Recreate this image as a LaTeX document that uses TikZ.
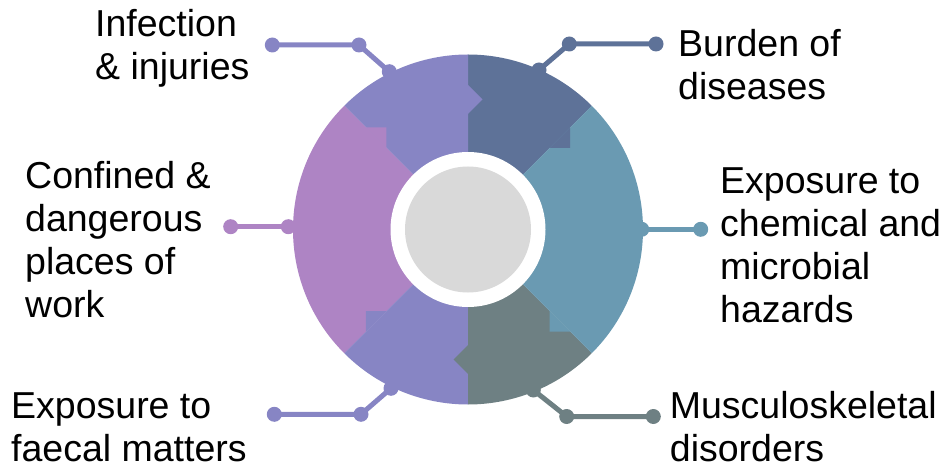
\documentclass[tikz,border=0pt]{standalone}
\usepackage{fontspec}
\setmainfont{Liberation Sans}
\usetikzlibrary{calc}
\definecolor{lavender}{HTML}{8785C4}
\definecolor{orchid}{HTML}{AE84C4}
\definecolor{slate}{HTML}{5E7298}
\definecolor{steel}{HTML}{6A9AB2}
\definecolor{sage}{HTML}{6E8083}
\definecolor{hub}{HTML}{D9D9D9}
\begin{document}
\begin{tikzpicture}[x=1pt, y=1pt,
    dot/.style={circle, fill=#1, minimum size=15pt, inner sep=0pt},
    link/.style={#1, line width=5pt},
    label/.style={anchor=north west, inner sep=0pt, align=left,
                  font=\fontsize{37.5}{43}\selectfont}]
      \useasboundingbox (-468, -238.5) rectangle (476, 229.5);
      % ring
      \foreach \a/\b/\c in {45/90/slate, 90/135/lavender, 135/225/orchid,
                            225/270/lavender, 270/315/sage, -45/45/steel}
        \fill [\c] (0, 0) -- (\a:175) arc [start angle=\a, end angle=\b, radius=175] -- cycle;
      \foreach \a/\c in {90/lavender, 135/orchid, 45/slate, -45/steel, 270/sage, 225/lavender}
        \fill [\c] (\a:115.5) -- ($(\a:130)+(\a-90:14.5)$) -- (\a:144.5) -- cycle;
      \fill [white] (0, 0) circle (77.5);
      \fill [hub] (0, 0) circle (63);
      % dots
      \node [dot=lavender] (inf1) at (-78.7, 157.8) {};
      \node [dot=lavender] (inf2) at (-109, 184.5) {};
      \node [dot=lavender] (inf3) at (-195.7, 184.5) {};
      \node [dot=slate] (bur1) at (71, 159.5) {};
      \node [dot=slate] (bur2) at (101.3, 185.5) {};
      \node [dot=slate] (bur3) at (188, 185.5) {};
      \node [dot=orchid] (conf1) at (-179.7, 2.8) {};
      \node [dot=orchid] (conf2) at (-237.3, 2.8) {};
      \node [dot=steel] (chem1) at (173.7, 0.2) {};
      \node [dot=steel] (chem2) at (232.7, 0.2) {};
      \node [dot=lavender] (faec1) at (-77, -158.8) {};
      \node [dot=lavender] (faec2) at (-107, -184.8) {};
      \node [dot=lavender] (faec3) at (-193.7, -184.8) {};
      \node [dot=sage] (musc1) at (65.3, -160.5) {};
      \node [dot=sage] (musc2) at (98.7, -187) {};
      \node [dot=sage] (musc3) at (185.3, -187) {};
      \draw [link=lavender] (inf1.center) -- (inf2.center) -- (inf3.center);
      \draw [link=slate] (bur1.center) -- (bur2.center) -- (bur3.center);
      \draw [link=orchid] (conf1.center) -- (conf2.center);
      \draw [link=steel] (chem1.center) -- (chem2.center);
      \draw [link=lavender] (faec1.center) -- (faec2.center) -- (faec3.center);
      \draw [link=sage] (musc1.center) -- (musc2.center) -- (musc3.center);
      % labels
      \node [label] (inf) at (-373, 220) {Infection\\\& injuries};
      \node [label] (bur) at (210, 200) {Burden of\\diseases};
      \node [label] (conf) at (-443, 68) {Confined \&\\dangerous\\places of\\work};
      \node [label] (chem) at (252, 62) {Exposure to\\chemical and\\microbial\\hazards};
      \node [label] (faec) at (-457, -163) {Exposure to\\faecal matters};
      \node [label] (musc) at (201.7, -162) {Musculoskeletal\\disorders};
\end{tikzpicture}
\end{document}
